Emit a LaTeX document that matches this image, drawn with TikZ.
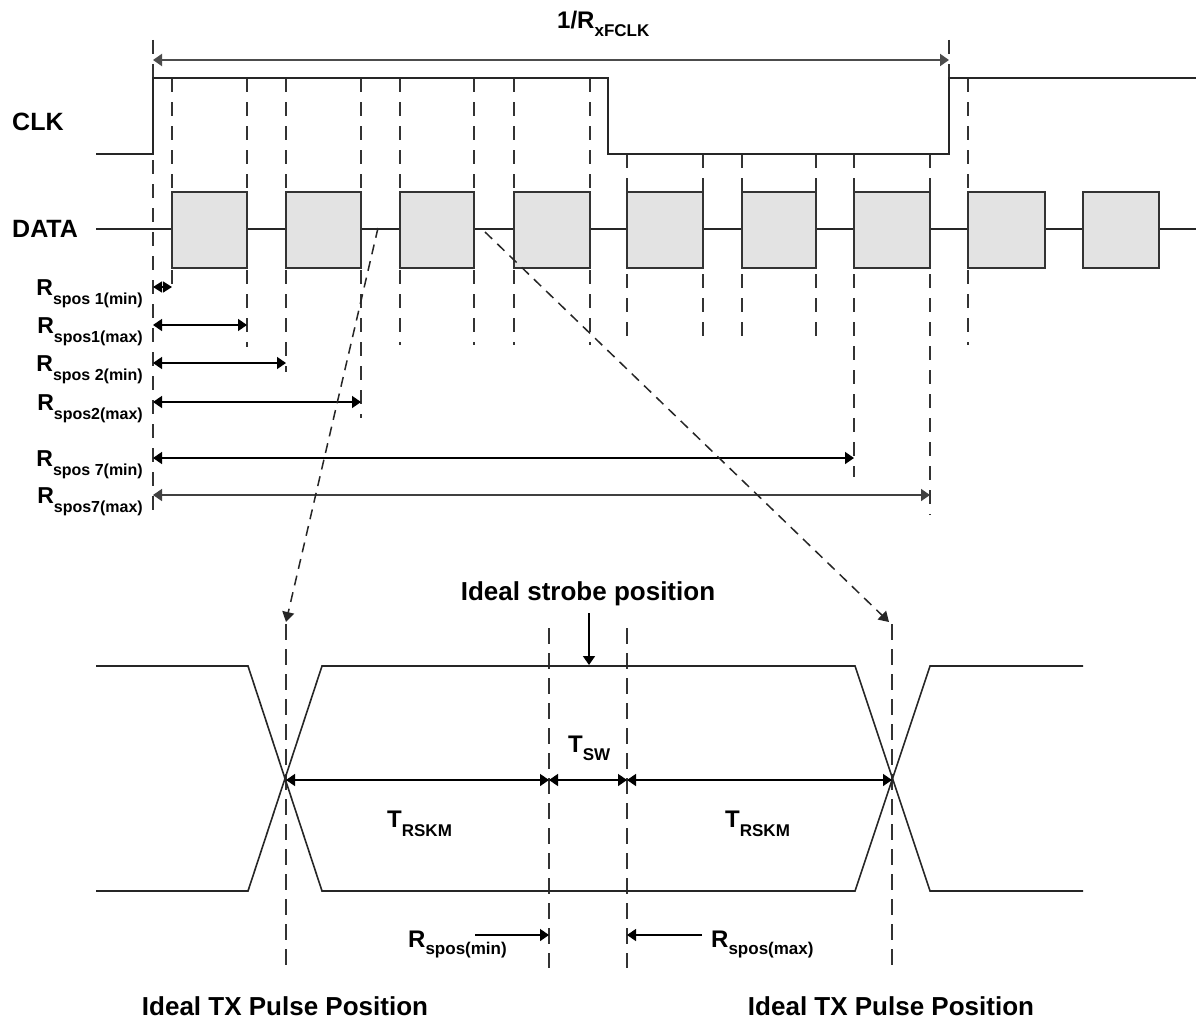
\documentclass[tikz,border=0pt]{standalone}
\usepackage{fontspec}
\setmainfont{Liberation Sans}
\usetikzlibrary{arrows.meta}
\newcommand{\fs}[1]{\fontsize{#1}{#1}\selectfont}
\newcommand{\lab}[5]{{\fs{#3}#1}\raisebox{-#5}{\fs{#4}#2}}
\tikzset{
  wave/.style={line width=1.6pt, draw=black!85, line join=miter},
  dline/.style={line width=1.6pt, draw=black!80, dash pattern=on 14pt off 10pt},
  databox/.style={line width=1.6pt, draw=black!80, fill=black!11},
  dimarrow/.style={line width=1.5pt, draw=black, {Triangle[length=9pt,width=12pt]}-{Triangle[length=9pt,width=12pt]}},
  onearrow/.style={line width=1.5pt, draw=black, -{Triangle[length=9pt,width=12pt]}},
  projline/.style={line width=1.5pt, draw=black!85, dash pattern=on 10pt off 7pt, -{Triangle[length=10pt,width=12pt]}},
  lbl/.style={font=\bfseries, inner sep=0pt, text=black},
}
\begin{document}
\begin{tikzpicture}[x=1pt,y=-1pt]
\useasboundingbox (0,0) rectangle (1198,1025);
\fill[white] (0,0) rectangle (1198,1025);

% ---------- dashed verticals (upper) ----------
\foreach \x/\a/\b in {153/40/515, 172/78/292, 247/78/347, 286/78/372, 361/78/418,
  400/78/345, 474/78/345, 514/78/345, 590/78/345,
  627/154/345, 703/154/345, 742/154/345, 816/154/345,
  854/154/477, 930/154/515, 949/40/154, 968/78/345}
  \draw[dline] (\x,\a) -- (\x,\b);

% ---------- CLK ----------
\coordinate (c0) at (96,154);
\coordinate (c1) at (153,154);
\coordinate (c2) at (153,78);
\coordinate (c3) at (608,78);
\coordinate (c4) at (608,154);
\coordinate (c5) at (949,154);
\coordinate (c6) at (949,78);
\coordinate (c7) at (1196,78);
\draw[wave] (c0) -- (c1) -- (c2) -- (c3) -- (c4) -- (c5) -- (c6) -- (c7);

% ---------- DATA ----------
\coordinate (d0) at (96,229);
\coordinate (d1) at (1196,229);
\draw[wave] (d0) -- (d1);
\foreach \s/\e in {172/247, 286/361, 400/474, 514/590, 627/703, 742/816, 854/930, 968/1045, 1083/1159}
  \draw[databox] (\s,192) rectangle (\e,268);

% ---------- labels left ----------
\node[lbl, anchor=base west] (clk) at (12,130) {\fs{25}CLK};
\node[lbl, anchor=base west] (data) at (12,237) {\fs{25}DATA};

% ---------- period arrow ----------
\coordinate (p0) at (153,60);
\coordinate (p1) at (949,60);
\draw[dimarrow, draw=black!70, line width=2pt] (p0) -- (p1);
\node[lbl, anchor=base west] (per) at (557,29) {\lab{1/R}{xFCLK}{24}{17}{8pt}};

% ---------- R_spos arrows ----------
\coordinate (r0) at (153,287);  \coordinate (r0e) at (172,287);
\coordinate (r1) at (153,325);  \coordinate (r1e) at (247,325);
\coordinate (r2) at (153,363);  \coordinate (r2e) at (286,363);
\coordinate (r3) at (153,402);  \coordinate (r3e) at (361,402);
\coordinate (r4) at (153,458);  \coordinate (r4e) at (854,458);
\coordinate (r5) at (153,495);  \coordinate (r5e) at (930,495);
\draw[line width=1.5pt, {Triangle[length=9pt,width=11pt]}-{Triangle[length=9pt,width=11pt]}] (r0) -- (r0e);
\draw[dimarrow] (r1) -- (r1e);
\draw[dimarrow] (r2) -- (r2e);
\draw[dimarrow] (r3) -- (r3e);
\draw[dimarrow] (r4) -- (r4e);
\draw[dimarrow, draw=black!75] (r5) -- (r5e);

\node[lbl, anchor=base east] (l0) at (143,295) {\lab{R}{spos 1(min)}{23}{16}{9pt}};
\node[lbl, anchor=base east] (l1) at (143,333) {\lab{R}{spos1(max)}{23}{16}{9pt}};
\node[lbl, anchor=base east] (l2) at (143,371) {\lab{R}{spos 2(min)}{23}{16}{9pt}};
\node[lbl, anchor=base east] (l3) at (143,410) {\lab{R}{spos2(max)}{23}{16}{9pt}};
\node[lbl, anchor=base east] (l4) at (143,466) {\lab{R}{spos 7(min)}{23}{16}{9pt}};
\node[lbl, anchor=base east] (l5) at (143,503) {\lab{R}{spos7(max)}{23}{16}{9pt}};

% ---------- projection lines ----------
\coordinate (pjL0) at (378,228);
\coordinate (pjL1) at (286,622);
\coordinate (pjR0) at (485,232);
\coordinate (pjR1) at (889,622);
\draw[projline] (pjL0) -- (pjL1);
\draw[projline] (pjR0) -- (pjR1);

% ---------- lower dashed verticals ----------
\foreach \x/\a/\b in {286/624/970, 549/628/968, 627/628/968, 892/624/970}
  \draw[dline, dash pattern=on 16pt off 9pt] (\x,\a) -- (\x,\b);

% ---------- eye waveform ----------
\coordinate (a0) at (96,666);  \coordinate (a1) at (248,666);
\coordinate (a2) at (322,891); \coordinate (a3) at (855,891);
\coordinate (a4) at (930,666); \coordinate (a5) at (1083,666);
\coordinate (b0) at (96,891);  \coordinate (b1) at (248,891);
\coordinate (b2) at (322,666); \coordinate (b3) at (855,666);
\coordinate (b4) at (930,891); \coordinate (b5) at (1083,891);
\draw[wave] (a0) -- (a1) -- (a2) -- (a3) -- (a4) -- (a5);
\draw[wave] (b0) -- (b1) -- (b2) -- (b3) -- (b4) -- (b5);

% ---------- strobe ----------
\node[lbl, anchor=base] (strobe) at (588,600) {\fs{26}Ideal strobe position};
\coordinate (s0) at (589,613);
\coordinate (s1) at (589,665);
\draw[onearrow] (s0) -- (s1);

% ---------- skew arrows ----------
\coordinate (k0) at (286,780);
\coordinate (k1) at (549,780);
\coordinate (k2) at (627,780);
\coordinate (k3) at (892,780);
\draw[dimarrow] (k0) -- (k1);
\draw[dimarrow] (k1) -- (k2);
\draw[dimarrow] (k2) -- (k3);

\node[lbl, anchor=base west] (tsw) at (568,752) {\lab{T}{SW}{24}{17}{8pt}};
\node[lbl, anchor=base west] (tr1) at (387,827) {\lab{T}{RSKM}{24}{17}{9pt}};
\node[lbl, anchor=base west] (tr2) at (725,827) {\lab{T}{RSKM}{24}{17}{9pt}};

% ---------- Rspos min/max ----------
\coordinate (m0) at (475,935);
\coordinate (m1) at (549,935);
\coordinate (x0) at (702,935);
\coordinate (x1) at (627,935);
\draw[onearrow] (m0) -- (m1);
\draw[onearrow] (x0) -- (x1);
\node[lbl, anchor=base west] (rmin) at (408,947) {\lab{R}{spos(min)}{24}{17}{7pt}};
\node[lbl, anchor=base west] (rmax) at (711,947) {\lab{R}{spos(max)}{24}{17}{7pt}};

% ---------- bottom labels ----------
\node[lbl, anchor=base] (txL) at (285,1015) {\fs{26}Ideal TX Pulse Position};
\node[lbl, anchor=base] (txR) at (891,1015) {\fs{26}Ideal TX Pulse Position};
\end{tikzpicture}
\end{document}
